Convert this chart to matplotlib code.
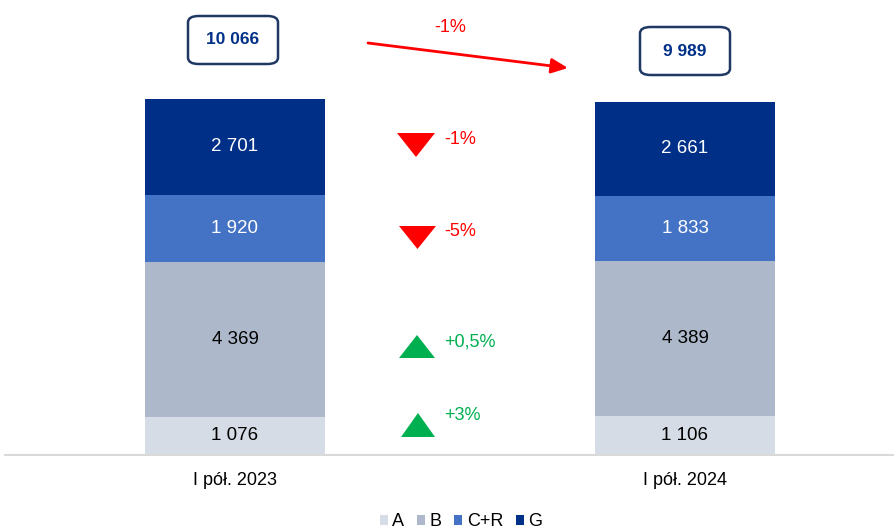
import matplotlib.pyplot as plt
from matplotlib.patches import FancyBboxPatch, Polygon

plt.rcParams["font.family"] = ["Liberation Sans", "DejaVu Sans"]

periods = ["I pół. 2023", "I pół. 2024"]
series = ["A", "B", "C+R", "G"]
values = {
    "A": [1076, 1106],
    "B": [4369, 4389],
    "C+R": [1920, 1833],
    "G": [2701, 2661],
}
totals = ["10 066", "9 989"]
total_change = "-1%"
seg_changes = ["+3%", "+0,5%", "-5%", "-1%"]

colors = {"A": "#D6DCE5", "B": "#ADB9CA", "C+R": "#4472C4", "G": "#002F87"}
text_colors = {"A": "black", "B": "black", "C+R": "white", "G": "white"}
red = "#FF0000"
green = "#00B050"

W, H = 895, 532


def fmt(v):
    return f"{v:,}".replace(",", " ")


def fig_xy(px, py):
    # pixel coords (from top-left) -> figure fraction
    return px / W, 1 - py / H


fig = plt.figure(figsize=(8.95, 5.32), dpi=100)
ax = fig.add_axes([5 / W, 1 - 455 / H, 890 / W, 455 / H])

x = [0, 1]
bottoms = [0, 0]
for s in series:
    vals = values[s]
    ax.bar(x, vals, bottom=bottoms, width=0.4, color=colors[s], label=s)
    for i, v in enumerate(vals):
        ax.text(x[i], bottoms[i] + v / 2, fmt(v), ha="center", va="center",
                fontsize=13.5, color=text_colors[s])
    bottoms = [b + v for b, v in zip(bottoms, vals)]

ax.set_xlim(-0.5111, 1.4667)
ax.set_ylim(0, 12865)
for sp in ["top", "right", "left"]:
    ax.spines[sp].set_visible(False)
ax.spines["bottom"].set_color("#D9D9D9")
ax.spines["bottom"].set_linewidth(1.5)
ax.set_yticks([])
ax.set_xticks(x)
ax.set_xticklabels(periods, fontsize=13)
ax.tick_params(axis="x", length=0, pad=12)

# total boxes
box_pos = [(233, 40), (685, 51)]
for (px, py), t in zip(box_pos, totals):
    fx, fy = fig_xy(px, py)
    w, h = 90 / W, 48 / H
    box = FancyBboxPatch((fx - w / 2, fy - h / 2), w, h,
                         boxstyle="round,pad=0,rounding_size=0.012",
                         transform=fig.transFigure, facecolor="white",
                         edgecolor="#1F3864", linewidth=1.8)
    fig.patches.append(box)
    fig.text(fx, fy, t, ha="center", va="center", fontsize=12.5,
             fontweight="bold", color="#003087")

# total change arrow
ax.annotate("", xy=fig_xy(568, 68), xytext=fig_xy(368, 43),
            xycoords="figure fraction", textcoords="figure fraction",
            arrowprops=dict(arrowstyle="-|>,head_length=1.0,head_width=0.45",
                            color=red, lw=2, shrinkA=0, shrinkB=0))
fig.text(*fig_xy(450, 27), total_change, ha="center", va="center",
         fontsize=13, color=red)

# segment change markers (bottom to top): triangle left, right, top, bottom, text y
marker_pos = [(401, 435, 413, 437, 416), (399, 435, 335, 358, 342),
              (399, 436, 226, 249, 231), (397, 435, 133, 157, 140)]
for (x0, x1, yt, yb, ty), ch in zip(marker_pos, seg_changes):
    up = ch.startswith("+")
    c = green if up else red
    xm = (x0 + x1) / 2
    if up:
        pts = [fig_xy(x0, yb), fig_xy(x1, yb), fig_xy(xm, yt)]
    else:
        pts = [fig_xy(x0, yt), fig_xy(x1, yt), fig_xy(xm, yb)]
    fig.patches.append(Polygon(pts, closed=True, facecolor=c, edgecolor="none",
                               transform=fig.transFigure))
    fig.text(*fig_xy(444, ty), ch, ha="left", va="center", fontsize=13, color=c)

ax.legend(loc="center", bbox_to_anchor=fig_xy(461, 522),
          bbox_transform=fig.transFigure, ncol=4, frameon=False,
          fontsize=13, handlelength=0.45, handleheight=0.45, handletextpad=0.25,
          columnspacing=0.7)

fig.savefig("out.png", dpi=100)
